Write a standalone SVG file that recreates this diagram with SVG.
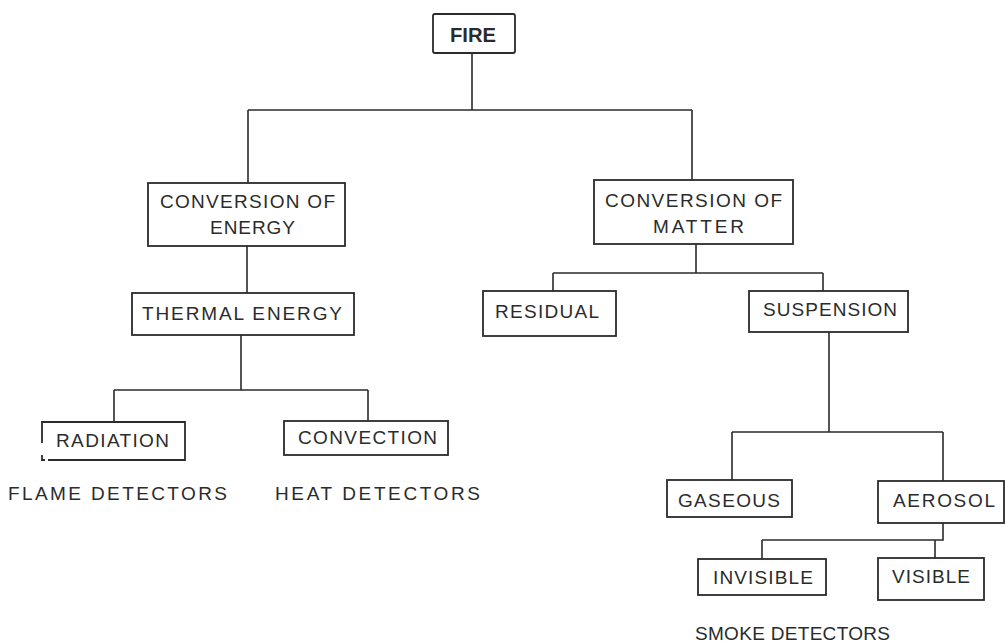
<svg xmlns="http://www.w3.org/2000/svg" width="1005" height="643" viewBox="0 0 1005 643">
<style>
.b{fill:#fff;stroke:#2b2b2b;stroke-width:1.8}
.t{font-family:"Liberation Sans",Arial,sans-serif;font-size:19px;fill:#2b2b2b}
.c{fill:none;stroke:#2b2b2b;stroke-width:1.6}
</style>
<rect width="1005" height="643" fill="#fff"/>
<g id="connectors" class="c">
<path d="M472 53V110M248 110H692M248 110V183M692 110V180"/>
<path d="M247 246V293M241 335V390M114 390H368M114 390V422M368 390V421"/>
<path d="M696 244V273M553 273H823M553 273V291M823 273V291"/>
<path d="M829 332V432M732 432H943M732 432V480M943 432V481"/>
<path d="M943 523V540H762M762 540V559M935 540V558"/>
</g>
<g id="fire"><rect class="b" x="433" y="14" width="82" height="39" rx="2"/><text class="t" x="450" y="42" textLength="46" lengthAdjust="spacingAndGlyphs" style="font-weight:bold;font-size:20px">FIRE</text></g>
<g id="conv-energy"><rect class="b" x="148" y="183" width="197" height="63"/><text class="t" x="160" y="208" textLength="175" lengthAdjust="spacing">CONVERSION OF</text><text class="t" x="210" y="234" textLength="85" lengthAdjust="spacing">ENERGY</text></g>
<g id="thermal"><rect class="b" x="132" y="293" width="222" height="42"/><text class="t" x="142" y="320" textLength="200" lengthAdjust="spacing">THERMAL ENERGY</text></g>
<g id="conv-matter"><rect class="b" x="594" y="180" width="199" height="64"/><text class="t" x="605" y="207" textLength="177" lengthAdjust="spacing">CONVERSION OF</text><text class="t" x="653" y="233" textLength="91" lengthAdjust="spacing">MATTER</text></g>
<g id="residual"><rect class="b" x="483" y="291" width="133" height="45"/><text class="t" x="495" y="318" textLength="104" lengthAdjust="spacing">RESIDUAL</text></g>
<g id="suspension"><rect class="b" x="749" y="291" width="159" height="41"/><text class="t" x="763" y="316" textLength="134" lengthAdjust="spacing">SUSPENSION</text></g>
<g id="radiation"><path class="b" style="fill:none" d="M42 443V422H185V460H48M42 455V460H45"/><text class="t" x="56" y="447" textLength="113" lengthAdjust="spacing">RADIATION</text></g>
<g id="convection"><rect class="b" x="284" y="421" width="164" height="34"/><text class="t" x="298" y="444" textLength="139" lengthAdjust="spacing">CONVECTION</text></g>
<g id="flame-label"><text class="t" x="8" y="500" textLength="219" lengthAdjust="spacing">FLAME DETECTORS</text></g>
<g id="heat-label"><text class="t" x="275" y="500" textLength="205" lengthAdjust="spacing">HEAT DETECTORS</text></g>
<g id="gaseous"><rect class="b" x="667" y="480" width="125" height="37"/><text class="t" x="678" y="507" textLength="102" lengthAdjust="spacing">GASEOUS</text></g>
<g id="aerosol"><rect class="b" x="878" y="481" width="126" height="42"/><text class="t" x="893" y="507" textLength="102" lengthAdjust="spacing">AEROSOL</text></g>
<g id="invisible"><rect class="b" x="698" y="559" width="128" height="36"/><text class="t" x="713" y="584" textLength="100" lengthAdjust="spacing">INVISIBLE</text></g>
<g id="visible"><rect class="b" x="878" y="558" width="106" height="42"/><text class="t" x="892" y="583" textLength="78" lengthAdjust="spacing">VISIBLE</text></g>
<g id="smoke-label"><text class="t" x="695" y="640" textLength="195" lengthAdjust="spacing">SMOKE DETECTORS</text></g>
</svg>
